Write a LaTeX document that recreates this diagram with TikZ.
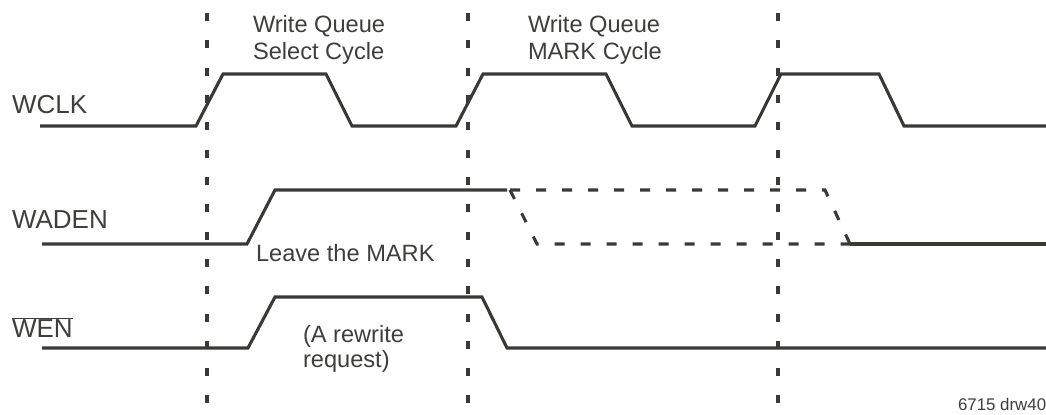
\documentclass[tikz,border=0pt]{standalone}
\usepackage{fontspec}
\setmainfont{Liberation Sans}
\usetikzlibrary{positioning}
\definecolor{trace}{RGB}{58,58,52}
\definecolor{ink}{RGB}{62,62,58}
\tikzset{
        every node/.style={anchor=base west,align=left,inner sep=0pt,outer sep=0pt,text=ink},
        sig/.style={line width=2.2pt,trace,line join=miter},
        grid/.style={line width=2.6pt,trace,dash pattern=on 0.2cm off 0.483cm},
        ghost/.style={line width=2.2pt,trace,dash pattern=on 0.25cm off 0.4cm},
        signame/.style={font=\fontsize{18.5}{22}\selectfont},
        note/.style={font=\fontsize{16.8}{19.9}\selectfont},
        }

\begin{document}
\begin{tikzpicture}
			\useasboundingbox (0,0) rectangle (26.15,10.375);

			% cycle boundaries
			\foreach \x in {5.175,11.7,19.45}
				\draw [grid] (\x,10.05) -- (\x,0.25);

			% signal names
			\node [signame] (wclk) at (0.3,7.525) {WCLK};
			\node [signame] (waden) at (0.3,4.65) {WADEN};
			\node [signame] (wen) at (0.3,1.925) {$\overline{\mbox{WEN}}$};

			% WCLK
			\draw [sig] (1.0,7.225) -- (4.9,7.225) -- (5.575,8.525) -- (8.15,8.525) -- (8.8,7.225)
				-- (11.4,7.225) -- (12.075,8.525) -- (15.15,8.525) -- (15.8,7.225)
				-- (18.875,7.225) -- (19.525,8.525) -- (21.975,8.525) -- (22.6,7.225) -- (26.15,7.225);

			% WADEN
			\draw [sig] (1.05,4.275) -- (6.175,4.275) -- (6.875,5.625) -- (12.675,5.625);
			\draw [ghost] (12.75,5.625) -- (20.625,5.625) -- (21.25,4.275);
			\draw [ghost] (12.75,5.625) -- (13.425,4.275) -- (21.25,4.275);
			\draw [sig] (21.25,4.275) -- (26.15,4.275);

			% WEN
			\draw [sig] (1.05,1.675) -- (6.2,1.675) -- (6.875,2.95) -- (12.05,2.95) -- (12.675,1.675) -- (26.15,1.675);

			% notes (base is the last line)
			\node [note] (selcycle) at (6.325,8.875) {Write Queue\\Select Cycle};
			\node [note] (markcycle) at (13.2,8.875) {Write Queue\\MARK Cycle};
			\node [note] (leave) at (6.4,3.825) {Leave the MARK};
			\node [note,font=\fontsize{16.8}{17.8}\selectfont] (rewrite) at (7.575,1.175) {(A rewrite\\request)};
			\node [font=\fontsize{12}{14}\selectfont] (drw) at (23.95,0.1) {6715 drw40};
		\end{tikzpicture}
\end{document}
